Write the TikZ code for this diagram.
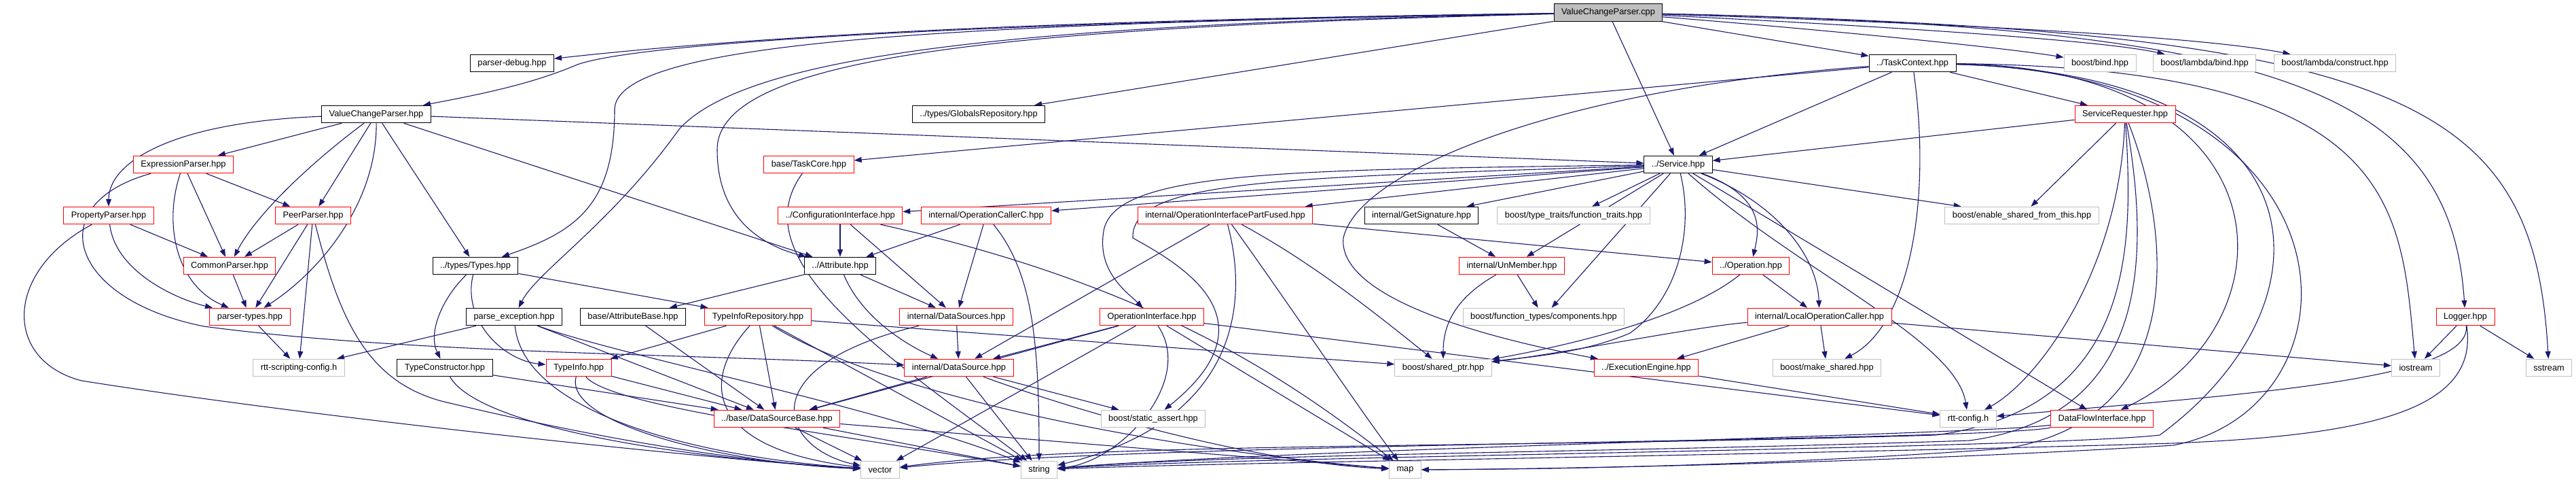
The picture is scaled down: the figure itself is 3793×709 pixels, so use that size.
\documentclass[tikz,border=0pt]{standalone}
\usepackage{fontspec}
\usetikzlibrary{arrows.meta}
\newfontfamily\graphfont{Liberation Sans}
\definecolor{edgeblue}{RGB}{25,25,112}
\definecolor{extgray}{RGB}{191,191,191}
\pgfdeclarelayer{background}
\pgfsetlayers{background,main}
\tikzstyle{file} = [rectangle,
minimum height=25.5pt,
inner xsep=11pt,
inner ysep=0pt,
draw=black,
line width=1pt,
fill=white,
font=\graphfont\fontsize{12.8}{15}\selectfont]
\tikzstyle{file_red} = [file, draw=red]
\tikzstyle{file_ext} = [file, draw=extgray]
\tikzstyle{file_main} = [file, fill=extgray]
\tikzstyle{dep} = [edgeblue, line width=1.1pt, -{Triangle[length=11pt,width=8pt]}]

\begin{document}
\begin{tikzpicture}[x=1pt, y=-1pt]
\useasboundingbox (0,0) rectangle (3793,709);

% Rows of the include graph
\node (cpp) [file_main] at (2368,18.5) {ValueChangeParser.cpp};

\node (parserdebug) [file] at (754,93) {parser-debug.hpp};
\node (taskcontext) [file] at (2816,93) {../TaskContext.hpp};
\node (bind) [file_ext] at (3092,93) {boost/bind.hpp};
\node (lambdabind) [file_ext] at (3246,93) {boost/lambda/bind.hpp};
\node (lambdaconstruct) [file_ext] at (3438,93) {boost/lambda/construct.hpp};

\node (vcp) [file] at (554,168) {ValueChangeParser.hpp};
\node (globals) [file] at (1441,168) {../types/GlobalsRepository.hpp};
\node (servicereq) [file_red] at (3129,168) {ServiceRequester.hpp};

\node (exprparser) [file_red] at (270,242) {ExpressionParser.hpp};
\node (taskcore) [file_red] at (1191,242) {base/TaskCore.hpp};
\node (service) [file] at (2471,242) {../Service.hpp};

\node (propparser) [file_red] at (160,317) {PropertyParser.hpp};
\node (peerparser) [file_red] at (461,317) {PeerParser.hpp};
\node (configiface) [file_red] at (1237,317) {../ConfigurationInterface.hpp};
\node (opcallerc) [file_red] at (1452,317) {internal/OperationCallerC.hpp};
\node (oipf) [file_red] at (1804,317) {internal/OperationInterfacePartFused.hpp};
\node (getsig) [file] at (2093,317) {internal/GetSignature.hpp};
\node (functraits) [file_ext] at (2317,317) {boost/type\_traits/function\_traits.hpp};
\node (enableshared) [file_ext] at (2977,317) {boost/enable\_shared\_from\_this.hpp};

\node (commonparser) [file_red] at (338,391) {CommonParser.hpp};
\node (types) [file] at (700,391) {../types/Types.hpp};
\node (attribute) [file] at (1237,391) {../Attribute.hpp};
\node (unmember) [file_red] at (2226,391) {internal/UnMember.hpp};
\node (operation) [file_red] at (2578,391) {../Operation.hpp};

\node (parsertypes) [file_red] at (368,466) {parser-types.hpp};
\node (parseexc) [file] at (757,466) {parse\_exception.hpp};
\node (attrbase) [file] at (932,466) {base/AttributeBase.hpp};
\node (typeinforepo) [file_red] at (1116,466) {TypeInfoRepository.hpp};
\node (datasources) [file_red] at (1408,466) {internal/DataSources.hpp};
\node (opiface) [file_red] at (1696,466) {OperationInterface.hpp};
\node (components) [file_ext] at (2273,466) {boost/function\_types/components.hpp};
\node (localopcaller) [file_red] at (2679,466) {internal/LocalOperationCaller.hpp};
\node (logger) [file_red] at (3630,466) {Logger.hpp};

\node (rttscripting) [file_ext] at (440,541) {rtt-scripting-config.h};
\node (typeconstructor) [file] at (655,541) {TypeConstructor.hpp};
\node (typeinfo) [file_red] at (852,541) {TypeInfo.hpp};
\node (datasource) [file_red] at (1412,541) {internal/DataSource.hpp};
\node (sharedptr) [file_ext] at (2125,541) {boost/shared\_ptr.hpp};
\node (execengine) [file_red] at (2424,541) {../ExecutionEngine.hpp};
\node (makeshared) [file_ext] at (2690,541) {boost/make\_shared.hpp};
\node (iostream) [file_ext] at (3557,541) {iostream};
\node (sstream) [file_ext] at (3753,541) {sstream};

\node (datasourcebase) [file_red] at (1144,616) {../base/DataSourceBase.hpp};
\node (staticassert) [file_ext] at (1698,616) {boost/static\_assert.hpp};
\node (rttconfig) [file_ext] at (2898,616) {rtt-config.h};
\node (dataflow) [file_red] at (3095,616) {DataFlowInterface.hpp};

\node (vector) [file_ext] at (1296,691) {vector};
\node (string) [file_ext] at (1530,691) {string};
\node (map) [file_ext] at (2069,691) {map};

\begin{pgfonlayer}{background}
% ValueChangeParser.cpp
\draw [dep] (cpp) .. controls (1500,30) and (1100,55) .. (parserdebug);
\draw [dep] (cpp) .. controls (1500,32) and (950,60) .. (850,95) .. controls (780,125) and (700,140) .. (vcp);
\draw [dep] (cpp) .. controls (1400,35) and (910,60) .. (905,160) .. controls (905,300) and (850,340) .. (types);
\draw [dep] (cpp) .. controls (1500,36) and (1100,80) .. (1000,190) .. controls (900,330) and (790,400) .. (parseexc);
\draw [dep] (cpp) .. controls (1500,40) and (1056,80) .. (1056,220) .. controls (1056,320) and (1120,360) .. (attribute);
\draw [dep] (cpp) -- (globals);
\draw [dep] (cpp) -- (service);
\draw [dep] (cpp) -- (taskcontext);
\draw [dep] (cpp) .. controls (2700,45) and (2950,70) .. (bind);
\draw [dep] (cpp) .. controls (2800,40) and (3100,60) .. (lambdabind);
\draw [dep] (cpp) .. controls (2900,35) and (3250,55) .. (lambdaconstruct);
\draw [dep] (cpp) .. controls (3350,40) and (3608,130) .. (logger);
\draw [dep] (cpp) .. controls (3550,45) and (3731,150) .. (sstream);

% ValueChangeParser.hpp
\draw [dep] (vcp) -- (exprparser);
\draw [dep] (vcp) .. controls (250,180) and (160,240) .. (propparser);
\draw [dep] (vcp) .. controls (470,230) and (380,310) .. (commonparser);
\draw [dep] (vcp) -- (peerparser);
\draw [dep] (vcp) .. controls (555,300) and (470,400) .. (parsertypes);
\draw [dep] (vcp) -- (types);
\draw [dep] (vcp) -- (attribute);
\draw [dep] (vcp) -- (service);

% parsers
\draw [dep] (exprparser) -- (peerparser);
\draw [dep] (exprparser) -- (commonparser);
\draw [dep] (exprparser) .. controls (240,330) and (260,420) .. (parsertypes);
\draw [dep] (exprparser) .. controls (60,300) and (100,440) .. (300,480) .. controls (600,520) and (1000,520) .. (datasource);
\draw [dep] (propparser) -- (commonparser);
\draw [dep] (propparser) .. controls (170,400) and (260,440) .. (parsertypes);
\draw [dep] (propparser) .. controls (5,400) and (5,530) .. (120,560) .. controls (500,620) and (1100,680) .. (vector);
\draw [dep] (peerparser) -- (commonparser);
\draw [dep] (peerparser) -- (parsertypes);
\draw [dep] (peerparser) -- (rttscripting);
\draw [dep] (peerparser) .. controls (500,470) and (540,560) .. (650,590) .. controls (900,650) and (1100,680) .. (vector);
\draw [dep] (commonparser) -- (parsertypes);
\draw [dep] (parsertypes) -- (rttscripting);

% types
\draw [dep] (types) .. controls (650,440) and (630,490) .. (typeconstructor);
\draw [dep] (types) .. controls (680,470) and (740,530) .. (typeinfo);
\draw [dep] (types) -- (typeinforepo);
\draw [dep] (parseexc) -- (rttscripting);
\draw [dep] (parseexc) .. controls (770,600) and (1000,670) .. (vector);
\draw [dep] (parseexc) -- (datasourcebase);
\draw [dep] (parseexc) .. controls (900,520) and (1300,600) .. (string);
\draw [dep] (attrbase) -- (datasourcebase);
\draw [dep] (typeconstructor) -- (datasourcebase);
\draw [dep] (typeconstructor) .. controls (700,620) and (950,670) .. (vector);
\draw [dep] (typeinfo) -- (datasourcebase);
\draw [dep] (typeinfo) .. controls (830,620) and (1050,680) .. (vector);
\draw [dep] (typeinfo) .. controls (900,600) and (1250,640) .. (string);
\draw [dep] (typeinforepo) -- (typeinfo);
\draw [dep] (typeinforepo) -- (datasourcebase);
\draw [dep] (typeinforepo) .. controls (1030,560) and (1040,660) .. (vector);
\draw [dep] (typeinforepo) -- (string);
\draw [dep] (typeinforepo) .. controls (1300,580) and (1700,660) .. (map);
\draw [dep] (typeinforepo) -- (sharedptr);

% attributes and data sources
\draw [dep] (attribute) -- (attrbase);
\draw [dep] (attribute) -- (datasources);
\draw [dep] (attribute) .. controls (1270,470) and (1340,510) .. (datasource);
\draw [dep] (configiface) -- (attribute);
\draw [dep] (configiface) -- (datasources);
\draw [dep] (configiface) .. controls (1700,420) and (1900,560) .. (map);
\draw [dep] (opcallerc) -- (attribute);
\draw [dep] (opcallerc) -- (datasources);
\draw [dep] (opcallerc) .. controls (1520,400) and (1530,500) .. (string);
\draw [dep] (datasources) -- (datasource);
\draw [dep] (datasources) .. controls (1100,540) and (1150,660) .. (vector);
\draw [dep] (datasource) -- (datasourcebase);
\draw [dep] (datasource) -- (staticassert);
\draw [dep] (datasource) -- (string);
\draw [dep] (datasource) .. controls (1600,610) and (1850,680) .. (map);
\draw [dep] (datasourcebase) -- (vector);
\draw [dep] (datasourcebase) -- (string);
\draw [dep] (datasourcebase) -- (map);
\draw [dep] (taskcore) .. controls (1090,380) and (1300,520) .. (string);

% operations
\draw [dep] (oipf) -- (datasource);
\draw [dep] (oipf) -- (operation);
\draw [dep] (oipf) .. controls (1920,380) and (2000,440) .. (sharedptr);
\draw [dep] (oipf) .. controls (1840,450) and (1820,620) .. (string);
\draw [dep] (oipf) .. controls (1900,450) and (2000,600) .. (map);
\draw [dep] (opiface) -- (datasource);
\draw [dep] (opiface) -- (datasourcebase);
\draw [dep] (opiface) -- (vector);
\draw [dep] (opiface) .. controls (1760,560) and (1650,680) .. (string);
\draw [dep] (opiface) -- (map);
\draw [dep] (opiface) -- (rttconfig);
\draw [dep] (getsig) -- (unmember);
\draw [dep] (unmember) -- (components);
\draw [dep] (unmember) .. controls (2140,440) and (2125,480) .. (sharedptr);
\draw [dep] (operation) -- (localopcaller);
\draw [dep] (operation) .. controls (2480,470) and (2300,510) .. (sharedptr);
\draw [dep] (localopcaller) .. controls (2500,480) and (2300,520) .. (sharedptr);
\draw [dep] (localopcaller) -- (execengine);
\draw [dep] (localopcaller) -- (makeshared);
\draw [dep] (localopcaller) -- (iostream);
\draw [dep] (execengine) -- (rttconfig);

% Service.hpp
\draw [dep] (service) -- (configiface);
\draw [dep] (service) -- (opcallerc);
\draw [dep] (service) -- (oipf);
\draw [dep] (service) -- (getsig);
\draw [dep] (service) -- (functraits);
\draw [dep] (service) -- (unmember);
\draw [dep] (service) .. controls (2600,290) and (2590,340) .. (operation);
\draw [dep] (service) -- (components);
\draw [dep] (service) .. controls (2620,300) and (2676,380) .. (localopcaller);
\draw [dep] (service) -- (enableshared);
\draw [dep] (service) .. controls (1900,250) and (1640,250) .. (1625,340) .. controls (1615,400) and (1660,430) .. (opiface);
\draw [dep] (service) .. controls (1900,262) and (1665,262) .. (1668,350) .. controls (1740,390) and (1880,470) .. (staticassert);
\draw [dep] (service) .. controls (2495,340) and (2470,440) .. (2400,490) .. controls (2330,520) and (2250,525) .. (sharedptr);
\draw [dep] (service) .. controls (2650,400) and (2880,500) .. (rttconfig);
\draw [dep] (service) -- (dataflow);

% TaskContext.hpp
\draw [dep] (taskcontext) -- (taskcore);
\draw [dep] (taskcontext) -- (service);
\draw [dep] (taskcontext) -- (servicereq);
\draw [dep] (taskcontext) .. controls (2300,130) and (2000,250) .. (1978,350) .. controls (1970,430) and (2150,490) .. (execengine);
\draw [dep] (taskcontext) .. controls (2845,300) and (2810,480) .. (makeshared);
\draw [dep] (taskcontext) .. controls (3380,100) and (3380,480) .. (dataflow);
\draw [dep] (taskcontext) .. controls (3530,100) and (3535,300) .. (iostream);
\draw [dep] (taskcontext) .. controls (3440,110) and (3440,450) .. (3180,640) .. controls (3000,660) and (1800,672) .. (string);
\draw [dep] (taskcontext) .. controls (3490,110) and (3490,600) .. (3200,655) .. controls (2800,680) and (2300,690) .. (map);

% ServiceRequester.hpp
\draw [dep] (servicereq) -- (service);
\draw [dep] (servicereq) -- (enableshared);
\draw [dep] (servicereq) .. controls (3120,400) and (3000,560) .. (rttconfig);
\draw [dep] (servicereq) .. controls (3140,350) and (3150,600) .. (2850,640) .. controls (2200,660) and (1600,650) .. (vector);
\draw [dep] (servicereq) .. controls (3160,350) and (3180,610) .. (2900,648) .. controls (2400,665) and (1800,668) .. (string);
\draw [dep] (servicereq) .. controls (3200,350) and (3220,620) .. (2950,660) .. controls (2600,685) and (2300,690) .. (map);

% Logger.hpp and DataFlowInterface.hpp
\draw [dep] (logger) -- (iostream);
\draw [dep] (logger) -- (sstream);
\draw [dep] (logger) .. controls (3640,560) and (3300,580) .. (rttconfig);
\draw [dep] (logger) .. controls (3650,600) and (3500,640) .. (3200,652) .. controls (2600,670) and (1800,680) .. (string);
\draw [dep] (dataflow) .. controls (2900,640) and (1900,660) .. (string);
\draw [dep] (dataflow) .. controls (2900,650) and (1700,650) .. (vector);
\end{pgfonlayer}

\end{tikzpicture}
\end{document}
